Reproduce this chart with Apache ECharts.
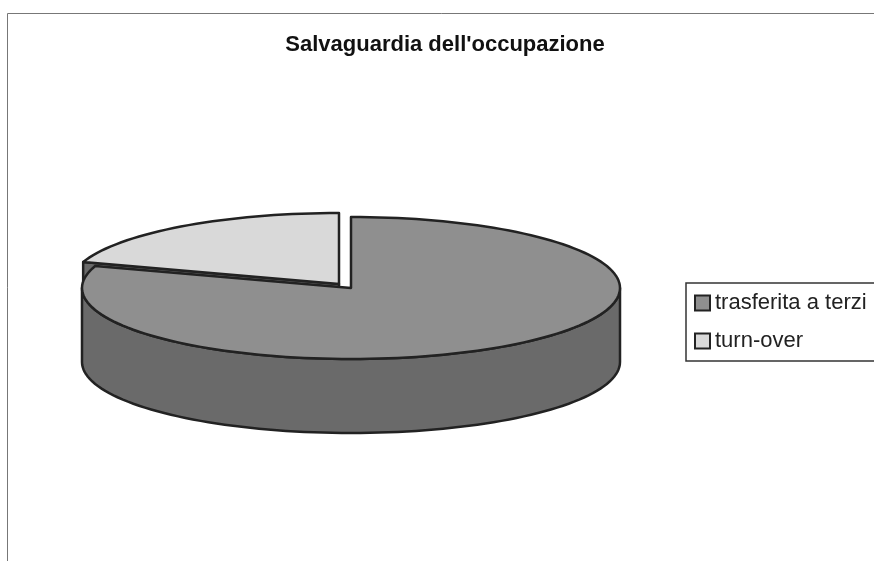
<!DOCTYPE html>
<html>
<head>
<meta charset="utf-8">
<style>
  html, body { margin: 0; padding: 0; background: #fff; }
  #chart { width: 874px; height: 561px; }
</style>
<script src="https://cdn.jsdelivr.net/npm/echarts@6/dist/echarts.min.js"></script>
</head>
<body>
<div id="chart"></div>
<script>
const titleText = "Salvaguardia dell'occupazione"
const categories = ['trasferita a terzi', 'turn-over']
const shares = [80, 20]
const topColors = ['#8f8f8f', '#d9d9d9']
const wallColors = ['#6a6a6a', '#6a6a6a']
const outlineColor = '#222'

// pie geometry: the ellipse seen in perspective, the extrusion, and the pulled-out slice
const cx = 351
const cy = 288
const rx = 269
const ry = 71
const depth = 74
const explode = [[0, 0], [-12, -4]]

const total = shares.reduce((a, b) => a + b, 0)

function sliceAngles(index) {
  let start = 0
  for (let i = 0; i < index; i++) start += shares[i] / total * 360
  return [start, start + shares[index] / total * 360]
}

function rimPoint(deg, ox, oy) {
  const t = deg * Math.PI / 180
  return [ox + rx * Math.sin(t), oy - ry * Math.cos(t)]
}

function arcPoints(from, to, ox, oy) {
  const pts = []
  for (let d = from; d < to; d += 2) pts.push(rimPoint(d, ox, oy))
  pts.push(rimPoint(to, ox, oy))
  return pts
}

function face(points, fill) {
  return {
    type: 'polygon',
    shape: { points },
    style: { fill, stroke: outlineColor, lineWidth: 2.5, lineJoin: 'round' }
  }
}

function renderSlice(index, share) {
  const [a0, a1] = sliceAngles(index)
  const ox = cx + explode[index][0]
  const oy = cy + explode[index][1]
  const children = []

  // front-facing cut edges
  const edges = []
  if (Math.sin(a0 * Math.PI / 180) < -1e-6) edges.push(a0)
  if (Math.sin(a1 * Math.PI / 180) > 1e-6) edges.push(a1)
  edges.forEach((a) => {
    const p = rimPoint(a, ox, oy)
    children.push(face([[ox, oy], p, [p[0], p[1] + depth], [ox, oy + depth]], wallColors[index]))
  })

  // outer wall, only the part on the near half of the ellipse
  const w0 = Math.max(a0, 90)
  const w1 = Math.min(a1, 270)
  if (w1 > w0) {
    const upper = arcPoints(w0, w1, ox, oy)
    const lower = arcPoints(w0, w1, ox, oy + depth).reverse()
    children.push(face(upper.concat(lower), wallColors[index]))
  }

  children.push(face([[ox, oy]].concat(arcPoints(a0, a1, ox, oy)), topColors[index]))
  return { type: 'group', children }
}

const chart = echarts.init(document.getElementById('chart'))

chart.setOption({
  animation: false,
  backgroundColor: '#fff',
  textStyle: { fontFamily: 'Liberation Sans' },
  title: {
    text: titleText,
    left: 440,
    top: 29,
    textAlign: 'center',
    textStyle: { fontFamily: 'Liberation Sans', fontSize: 22, fontWeight: 'bold', color: '#111' }
  },
  legend: {
    data: categories,
    orient: 'vertical',
    left: 686,
    top: 283,
    padding: [9, 30, 9, 8],
    itemGap: 16,
    itemWidth: 15,
    itemHeight: 15,
    icon: 'rect',
    borderColor: '#333',
    borderWidth: 1.5,
    selectedMode: false,
    itemStyle: { borderColor: '#222', borderWidth: 2 },
    textStyle: { fontFamily: 'Liberation Sans', fontSize: 22, color: '#222', padding: [0, 0, 0, 0] }
  },
  graphic: [{
    type: 'rect',
    silent: true,
    z: -1,
    shape: { x: 7.5, y: 13.5, width: 900, height: 600 },
    style: { fill: 'none', stroke: '#777', lineWidth: 1 }
  }],
  series: [1, 0].map((i) => ({
    type: 'custom',
    name: categories[i],
    coordinateSystem: 'none',
    itemStyle: { color: topColors[i] },
    data: [shares[i]],
    renderItem: (params, api) => renderSlice(i, api.value(0))
  }))
})
</script>
</body>
</html>
